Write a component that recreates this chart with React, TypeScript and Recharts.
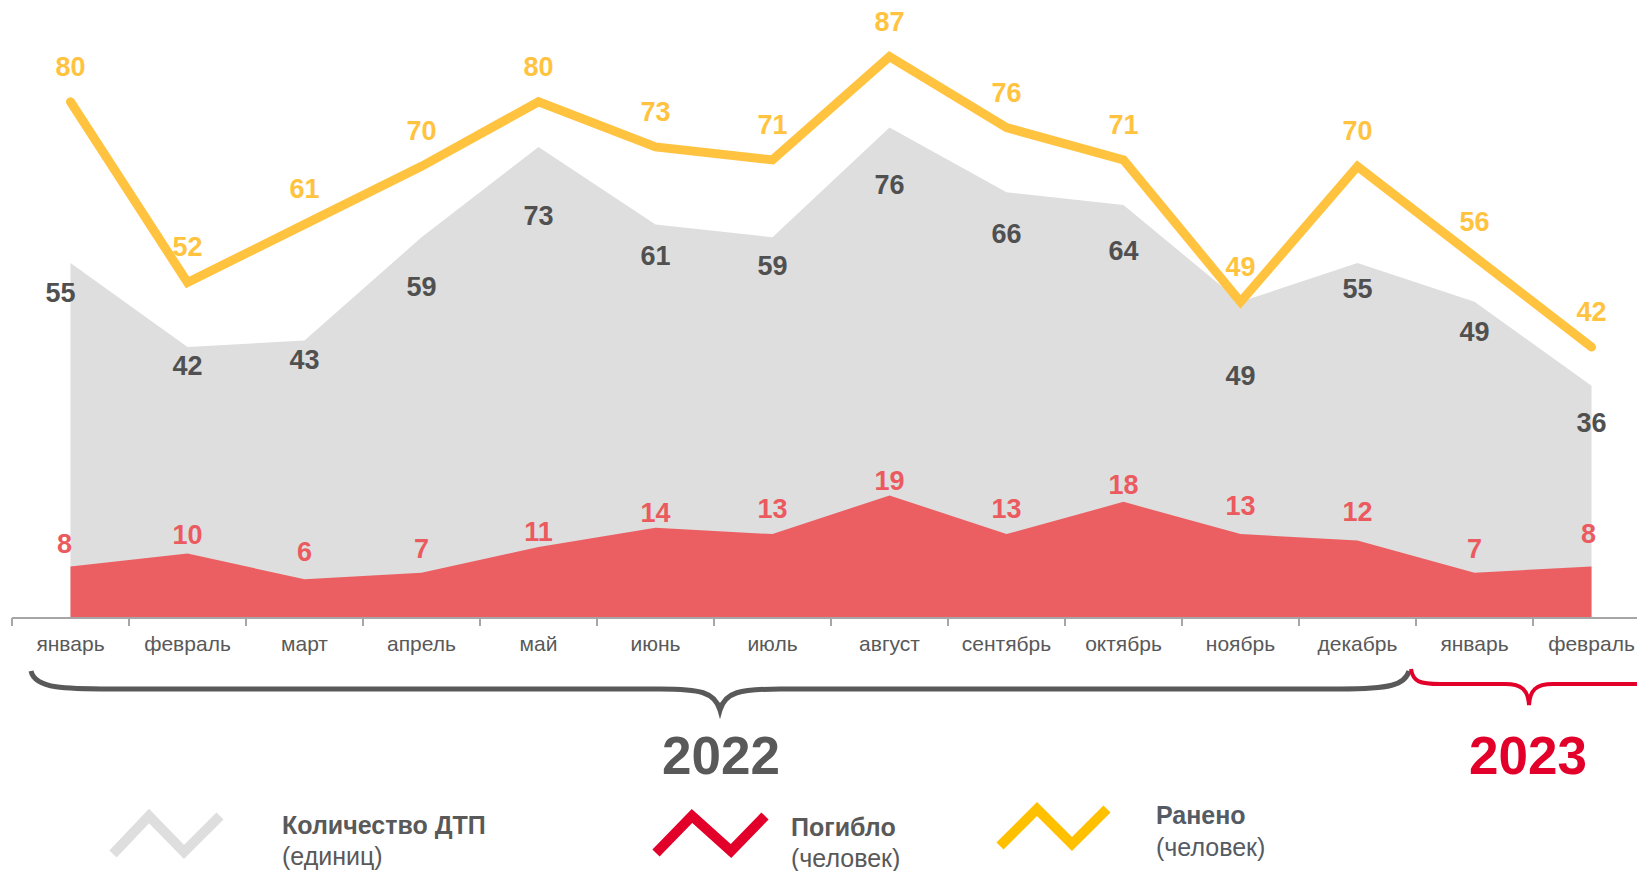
import { ComposedChart, Area, Line, XAxis, YAxis, LabelList } from 'recharts'

const months = ['январь', 'февраль', 'март', 'апрель', 'май', 'июнь', 'июль', 'август', 'сентябрь', 'октябрь', 'ноябрь', 'декабрь', 'январь', 'февраль']
const accidents = [55, 42, 43, 59, 73, 61, 59, 76, 66, 64, 49, 55, 49, 36]
const killed = [8, 10, 6, 7, 11, 14, 13, 19, 13, 18, 13, 12, 7, 8]
const injured = [80, 52, 61, 70, 80, 73, 71, 87, 76, 71, 49, 70, 56, 42]

// label placement tweaks (px)
const accLabelDy = [30, 19, 19, 50, 69, 32, 29, 57, 42, 46, 74, 26, 30, 37]
const killedLabelDy = [22, 18, 27, 24, 15, 15, 25, 14, 25, 17, 28, 29, 24, 32]

const data = months.map((m, i) => ({ m, acc: accidents[i], killed: killed[i], injured: injured[i] }))

const FONT = '"Liberation Sans", Arial, sans-serif'
const GRAY_TXT = '#595959'
const RED = '#E2002B'
const LEFT = 12
const WIDTH = 1650
const BAND = (WIDTH - LEFT) / months.length
const AXIS_Y = 618

const Tick = (p: any) => {
  const x = p.x as number
  return (
    <g>
      <line x1={x - BAND / 2} x2={x - BAND / 2} y1={AXIS_Y} y2={AXIS_Y + 8} stroke="#A6A6A6" strokeWidth={2} />
      <text x={x} y={AXIS_Y + 33} textAnchor="middle" fontFamily={FONT} fontSize={21} fill={GRAY_TXT}>
        {p.payload.value}
      </text>
    </g>
  )
}

const accLabel = (p: any) => (
  <text x={p.x + (p.index === 0 ? -10 : 0)} y={p.y + accLabelDy[p.index]} textAnchor="middle" dominantBaseline="central"
    fontFamily={FONT} fontWeight="bold" fontSize={27} fill="#505050">{p.value}</text>
)
const killedLabel = (p: any) => (
  <text x={p.x + (p.index === 0 ? -6 : p.index === 13 ? -3 : 0)} y={p.y - killedLabelDy[p.index]} textAnchor="middle" dominantBaseline="central"
    fontFamily={FONT} fontWeight="bold" fontSize={27} fill="#EB5A5E">{p.value}</text>
)
const injuredLabel = (p: any) => (
  <text x={p.x} y={p.y - 35} textAnchor="middle" dominantBaseline="central"
    fontFamily={FONT} fontWeight="bold" fontSize={27} fill="#FFC340">{p.value}</text>
)

function Legend() {
  return (
    <svg width={1637} height={871} style={{ position: 'absolute', left: 0, top: 0, pointerEvents: 'none' }}>
      {/* braces */}
      <path d="M31,671 C35,690 70,689 120,689 L660,689 C700,689 715,692 720,710 C725,692 740,689 780,689 L1340,689 C1390,689 1405,685 1409,671"
        fill="none" stroke={GRAY_TXT} strokeWidth={5} />
      <path d="M1411,669 C1413,682 1420,684 1440,684 L1505,684 C1522,684 1528,690 1529,705 C1530,690 1536,684 1553,684 L1650,684"
        fill="none" stroke={RED} strokeWidth={4} />
      <text x={721} y={774} textAnchor="middle" fontFamily={FONT} fontWeight="bold" fontSize={53} fill={GRAY_TXT}>2022</text>
      <text x={1528} y={774} textAnchor="middle" fontFamily={FONT} fontWeight="bold" fontSize={53} fill={RED}>2023</text>

      <polyline points="113,854 149,816 184,852 220,816" fill="none" stroke="#DEDEDE" strokeWidth={10} />
      <text x={282} y={834} fontFamily={FONT} fontWeight="bold" fontSize={25} fill={GRAY_TXT}>Количество ДТП</text>
      <text x={282} y={865} fontFamily={FONT} fontSize={25} fill={GRAY_TXT}>(единиц)</text>

      <polyline points="656,853 692,816 731,851 765,816" fill="none" stroke={RED} strokeWidth={10} />
      <text x={791} y={836} fontFamily={FONT} fontWeight="bold" fontSize={25} fill={GRAY_TXT}>Погибло</text>
      <text x={791} y={867} fontFamily={FONT} fontSize={25} fill={GRAY_TXT}>(человек)</text>

      <polyline points="1000,846 1037,809 1072,844 1107,809" fill="none" stroke="#FFC000" strokeWidth={10} />
      <text x={1156} y={824} fontFamily={FONT} fontWeight="bold" fontSize={25} fill="#545B64">Ранено</text>
      <text x={1156} y={856} fontFamily={FONT} fontSize={25} fill="#545B64">(человек)</text>
    </svg>
  )
}

export default function App() {
  return (
    <div style={{ position: 'absolute', left: 0, top: 0, width: 1637, height: 871, overflow: 'hidden', background: '#fff' }}>
      <ComposedChart width={WIDTH} height={700} data={data} margin={{ top: 5, right: 0, left: LEFT, bottom: 52 }}>
        <XAxis dataKey="m" height={30} padding={{ left: BAND / 2, right: BAND / 2 }}
          axisLine={{ stroke: '#A6A6A6', strokeWidth: 2 }} tickLine={false} tick={Tick} interval={0} />
        <YAxis hide domain={[0, 95]} />
        <Area dataKey="acc" type="linear" stroke="none" fill="#DEDEDE" fillOpacity={1} isAnimationActive={false}>
          <LabelList dataKey="acc" content={accLabel} />
        </Area>
        <Area dataKey="killed" type="linear" stroke="none" fill="#EB5F62" fillOpacity={1} isAnimationActive={false}>
          <LabelList dataKey="killed" content={killedLabel} />
        </Area>
        <Line dataKey="injured" type="linear" stroke="#FFC340" strokeWidth={9} strokeLinecap="round" dot={false} isAnimationActive={false}>
          <LabelList dataKey="injured" content={injuredLabel} />
        </Line>
      </ComposedChart>
      <Legend />
    </div>
  )
}
